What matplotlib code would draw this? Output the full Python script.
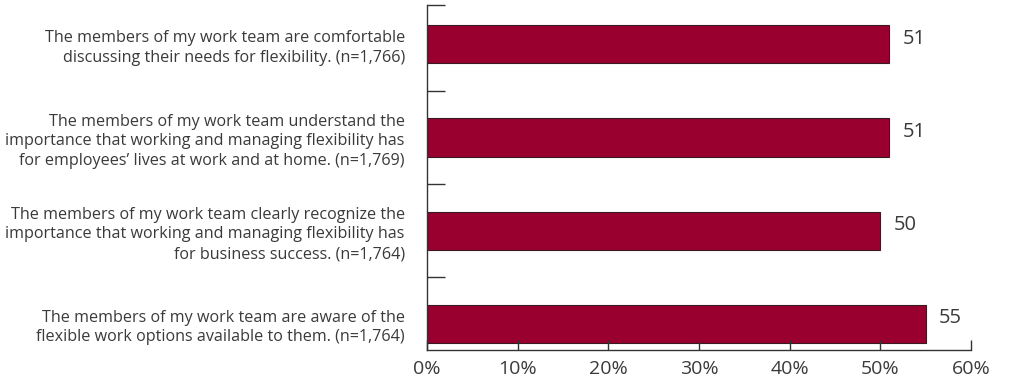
import matplotlib.pyplot as plt
from matplotlib.ticker import FixedLocator, PercentFormatter

plt.rcParams['font.family'] = ['Open Sans', 'DejaVu Sans']

labels = [
    "The members of my work team are comfortable\ndiscussing their needs for flexibility. (n=1,766)",
    "The members of my work team understand the\nimportance that working and managing flexibility has\nfor employees\u2019 lives at work and at home. (n=1,769)",
    "The members of my work team clearly recognize the\nimportance that working and managing flexibility has\nfor business success. (n=1,764)",
    "The members of my work team are aware of the\nflexible work options available to them. (n=1,764)",
]
values = [51, 51, 50, 55]
xticks = [0, 10, 20, 30, 40, 50, 60]

bar_color = "#990030"
text_color = "#3a3a3a"

fig = plt.figure(figsize=(10.11, 3.81), dpi=100)
ax = fig.add_axes([0.4224, 0.0814, 0.538, 0.9055])

pos = list(range(len(values)))
ax.barh(pos, values, height=0.41, color=bar_color, edgecolor="#3a1a22", linewidth=0.8)

for y, v in zip(pos, values):
    ax.text(v + 1.5, y - 0.06, f"{v}", va="center", ha="left", fontsize=14.5, color=text_color)

ax.set_xlim(0, 60)
ax.set_ylim(3.28, -0.42)

ax.set_xticks(xticks)
ax.xaxis.set_major_formatter(PercentFormatter(decimals=0))
ax.tick_params(axis="x", direction="in", length=7, width=1, pad=7, labelsize=14,
               colors="#333333", labelcolor=text_color)

ax.set_yticks(pos)
ax.set_yticklabels(labels, fontsize=11.6, color=text_color, ha="right", linespacing=1.3)
ax.tick_params(axis="y", which="major", length=0, pad=16)
ax.yaxis.set_minor_locator(FixedLocator([-0.42, 0.5, 1.5, 2.5]))
ax.tick_params(axis="y", which="minor", direction="in", length=13, width=1, colors="#333333")

for s in ["top", "right"]:
    ax.spines[s].set_visible(False)
for s in ["left", "bottom"]:
    ax.spines[s].set_color("#333333")
    ax.spines[s].set_linewidth(1)

fig.savefig("out.png", dpi=100)
